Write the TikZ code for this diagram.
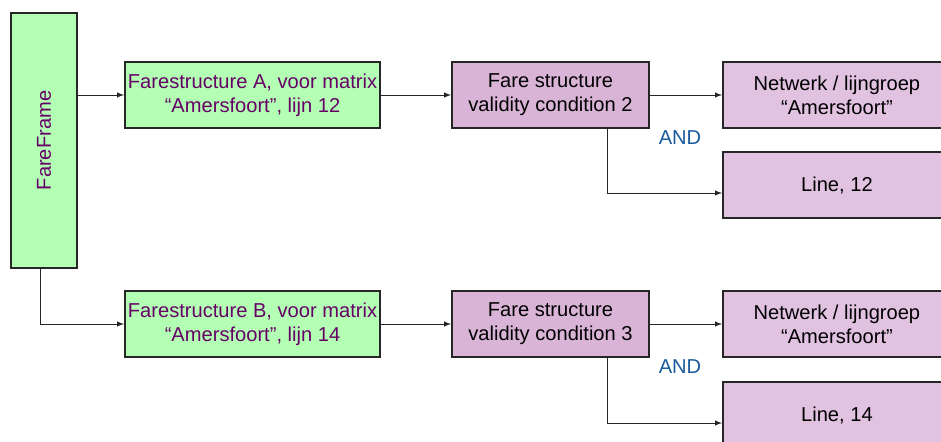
\documentclass[tikz,border=0pt]{standalone}
\usepackage{fontspec}
\setmainfont{Liberation Sans}
\definecolor{framegreen}{HTML}{B3FFB3}
\definecolor{textpurple}{HTML}{660066}
\definecolor{condpurple}{HTML}{D9B4D7}
\definecolor{leafpurple}{HTML}{E1C2E1}
\definecolor{andblue}{HTML}{1A5A9C}
\begin{document}
\begin{tikzpicture}[x=0.025cm, y=-0.025cm,
    >=latex,
    box/.style={draw=black!85, line width=1.3pt, align=center, inner sep=1pt,
      font=\fontsize{14.3}{17}\selectfont},
    greenbox/.style={box, fill=framegreen, text=textpurple,
      minimum width=6.375cm, minimum height=1.65cm},
    condbox/.style={box, fill=condpurple, minimum width=4.925cm, minimum height=1.65cm},
    leafbox/.style={box, fill=leafpurple, minimum width=5.7cm, minimum height=1.65cm},
    link/.style={->, draw=black!85, line width=0.7pt},
    andlabel/.style={text=andblue, font=\fontsize{14.3}{17}\selectfont}]
    \clip (0,0) rectangle (941,441);
    \useasboundingbox (0,0) rectangle (941,441);
    % frame
    \node[greenbox, rotate=90, minimum width=6.375cm] (ff) at (44,140.5) {FareFrame};
    % fare structures
    \node[greenbox] (fsA) at (252.5,95) {Farestructure A, voor matrix\\``Amersfoort'', lijn 12};
    \node[greenbox] (fsB) at (252.5,324) {Farestructure B, voor matrix\\``Amersfoort'', lijn 14};
    % validity conditions
    \node[condbox] (vc2) at (550.5,95) {Fare structure\\validity condition 2};
    \node[condbox] (vc3) at (550.5,324) {Fare structure\\validity condition 3};
    % network / line
    \node[leafbox, anchor=west] (net12) at (722,95) {Netwerk / lijngroep\\``Amersfoort''};
    \node[leafbox, anchor=west] (line12) at (722,185) {Line, 12};
    \node[leafbox, anchor=west] (net14) at (722,324) {Netwerk / lijngroep\\``Amersfoort''};
    \node[leafbox, anchor=west] (line14) at (722,415) {Line, 14};
    \node[andlabel] (and12) at (680,138) {AND};
    \node[andlabel] (and14) at (680,367) {AND};
    % connectors
    \draw[link] (ff.south |- fsA.west) -- (fsA.west);
    \draw[link] ([xshift=-0.1cm]ff.west) |- (fsB.west);
    \draw[link] (fsA) -- (vc2);
    \draw[link] (fsB) -- (vc3);
    \draw[link] (vc2) -- (net12);
    \draw[link] (vc3) -- (net14);
    \draw[link] ([xshift=1.425cm]vc2.south) |- ([yshift=-0.2cm]line12.west);
    \draw[link] ([xshift=1.425cm]vc3.south) |- ([yshift=-0.2cm]line14.west);
\end{tikzpicture}
\end{document}
